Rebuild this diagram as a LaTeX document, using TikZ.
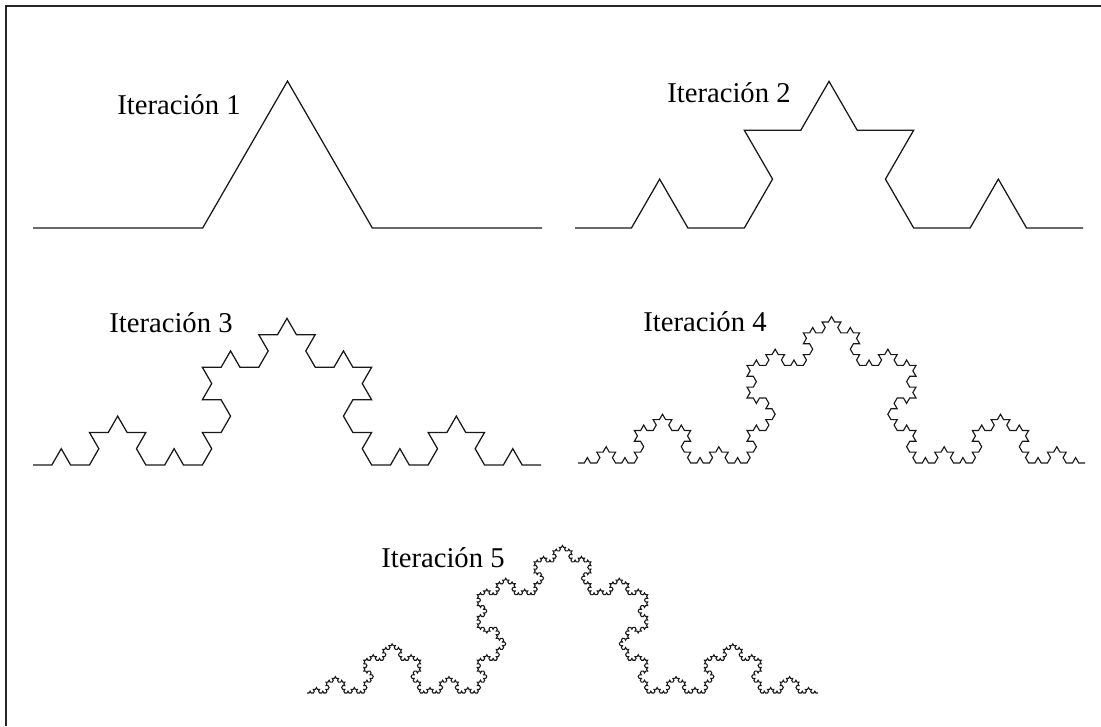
\documentclass[tikz,border=0pt]{standalone}
\usepackage{fontspec}
\setmainfont{Liberation Serif}

% Koch curve as a turtle path: every segment is replaced by four,
% turning +60, -120, +60 degrees (left, right, left).
\def\kochpath{}
\def\kochrec#1#2{%
  \ifnum\numexpr#1\relax=0
    \xdef\kochpath{\kochpath--++(\the\numexpr#2\relax:\kochlen)}%
  \else
    \kochrec{#1-1}{#2}\kochrec{#1-1}{#2+60}\kochrec{#1-1}{#2-60}\kochrec{#1-1}{#2}%
  \fi}
% #1 extra style, #2 start coordinate, #3 order, #4 overall length
\newcommand{\drawkoch}[4]{%
  \edef\kochlen{\fpeval{round(#4/3^#3,6)}}%
  \gdef\kochpath{}%
  \kochrec{#3}{0}%
  \edef\kochcmd{\noexpand\draw[curve,#1] (#2) \kochpath;}%
  \kochcmd}

\begin{document}
\begin{tikzpicture}[x=0.75pt,y=0.75pt,
  curve/.style={draw=black!90, line width=0.95pt, line join=miter},
  label/.style={anchor=base west, inner sep=0pt, font=\fontsize{21.5}{24}\selectfont, text=black},
  frameline/.style={draw=black!85, line width=1.6pt}]
  \useasboundingbox (0,0) rectangle (1101,726);

  % outer frame (left and top edges)
  \coordinate (fb) at (6,0);
  \coordinate (fc) at (6,720);
  \coordinate (fr) at (1101,720);
  \draw[frameline] (fb) -- (fc) -- (fr);

  % start points of the five curves
  \coordinate (s1) at (33,498);
  \coordinate (s2) at (575,498);
  \coordinate (s3) at (33,261);
  \coordinate (s4) at (578,263);
  \coordinate (s5) at (307,33);

  \drawkoch{}{s1}{1}{509}
  \drawkoch{}{s2}{2}{508}
  \drawkoch{}{s3}{3}{508}
  \drawkoch{line width=0.85pt}{s4}{4}{507}
  \drawkoch{line width=0.8pt}{s5}{5}{511}

  % labels
  \node[label] (t1) at (117,611) {Iteración 1};
  \node[label] (t2) at (667,623) {Iteración 2};
  \node[label] (t3) at (109,393) {Iteración 3};
  \node[label] (t4) at (643,394) {Iteración 4};
  \node[label] (t5) at (381,158) {Iteración 5};
\end{tikzpicture}
\end{document}
